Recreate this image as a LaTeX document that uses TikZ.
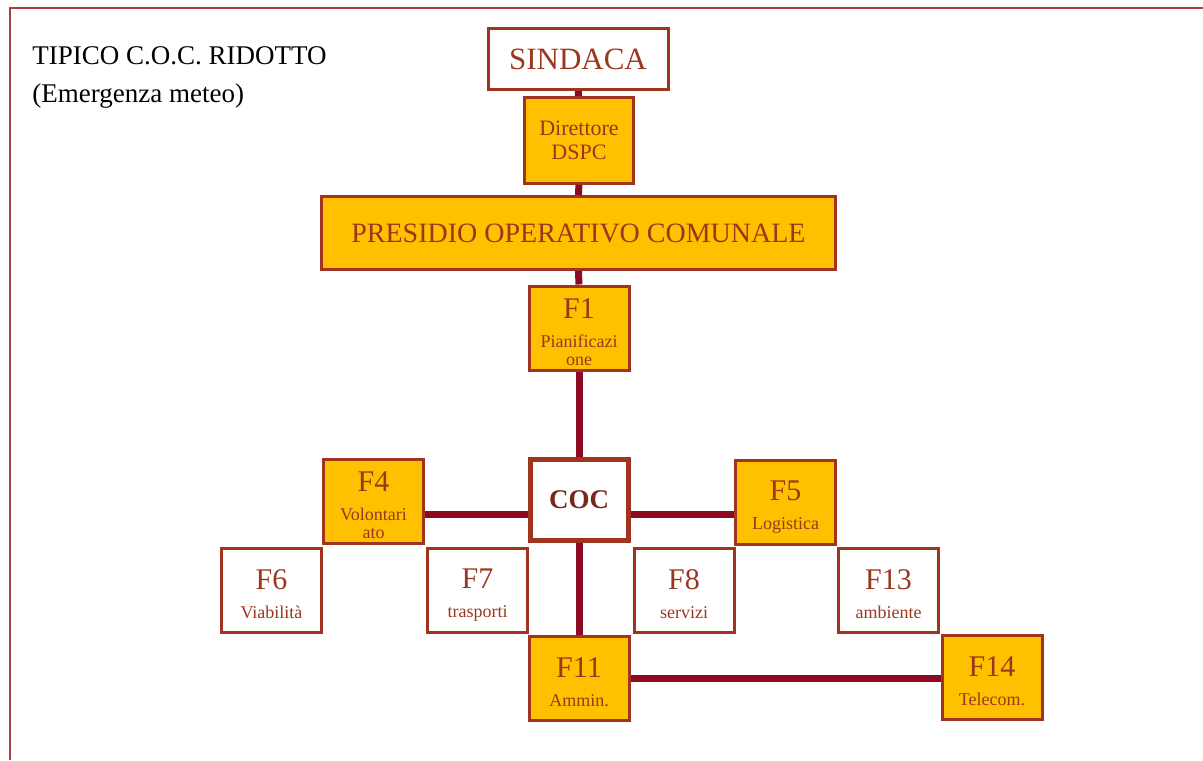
\documentclass[tikz,border=0pt]{standalone}
\usepackage{fontspec}
\setmainfont{Liberation Serif}
\usepackage{xcolor}
\definecolor{cocgold}{RGB}{255,192,0}
\definecolor{cocborder}{RGB}{160,52,30}
\definecolor{coclink}{RGB}{140,10,34}
\definecolor{coctext}{RGB}{155,55,30}
\definecolor{cocframe}{RGB}{165,65,65}
\newcommand{\Fbig}{\fontsize{15}{15}\selectfont}
\newcommand{\Fsmall}{\fontsize{9}{9}\selectfont}
\newcommand{\Flabel}[2]{{\Fbig\rule{0pt}{14.5pt}#1}\\[5.5pt]#2\rule[-1pt]{0pt}{1pt}}
\tikzstyle{box}=[rectangle, draw=cocborder, line width=1.5pt, inner sep=0pt, align=center, text=coctext, font=\Fsmall]
\tikzstyle{office}=[box, minimum width=50pt, minimum height=42pt]
\tikzstyle{filled}=[fill=cocgold]
\tikzstyle{link}=[line width=3.5pt, color=coclink]
\tikzstyle{heading}=[anchor=base west, inner sep=0pt, font=\fontsize{13.5}{16}\selectfont]

\begin{document}
\begin{tikzpicture}[x=0.5pt,y=-0.5pt]
  \useasboundingbox (0,0) rectangle (1203,760);
  \draw[cocframe, line width=1pt] (10,760) -- (10,8) -- (1203,8);

  \draw (32,64) node[heading] (title) {TIPICO C.O.C. RIDOTTO};
  \draw (32,102) node[heading] (subtitle) {(Emergenza meteo)};

  \draw (578,59) node[box, fill=white, minimum width=90pt, minimum height=30.5pt, font=\fontsize{15.5}{16}\selectfont] (sindaca) {SINDACA};
  \draw (579,140.5) node[box, filled, minimum width=54.5pt, minimum height=43pt, font=\fontsize{11}{12}\selectfont] (direttore) {Direttore\\DSPC};
  \draw (578.5,233) node[box, filled, minimum width=257pt, minimum height=36.5pt, font=\fontsize{14}{16}\selectfont] (presidio) {PRESIDIO OPERATIVO COMUNALE};
  \draw (579,328) node[office, filled] (f1) {\Flabel{F1}{Pianificazi\\one}};
  \draw (579,500) node[box, fill=white, line width=2.5pt, minimum width=49pt, minimum height=40.5pt, text={rgb,255:red,120;green,40;blue,25}, font=\fontsize{13.5}{16}\selectfont\bfseries] (coc) {COC};

  \draw (373.5,501.5) node[office, filled] (f4) {\Flabel{F4}{Volontari\\ato}};
  \draw (785.5,502.5) node[office, filled] (f5) {\Flabel{F5}{Logistica}};

  \draw (271.5,590) node[office] (f6) {\Flabel{F6}{Viabilità}};
  \draw (477.5,590) node[office] (f7) {\Flabel{F7}{trasporti}};
  \draw (684,590) node[office] (f8) {\Flabel{F8}{servizi}};
  \draw (888.5,590) node[office] (f13) {\Flabel{F13}{ambiente}};

  \draw (579,678) node[office, filled] (f11) {\Flabel{F11}{Ammin.}};
  \draw (992,677.5) node[office, filled] (f14) {\Flabel{F14}{Telecom.}};

  %% vertical chain
  \draw[link] (sindaca) -- (direttore);
  \draw[link] (direttore) -- (presidio);
  \draw[link] (presidio) -- (f1);
  \draw[link] (f1) -- (coc);
  \draw[link] (coc) -- (f11);
  %% side functions
  \draw[link] ([yshift=-7pt]coc.west) -- ([yshift=-7pt]coc.west -| f4.east);
  \draw[link] ([yshift=-7pt]coc.east) -- ([yshift=-7pt]coc.east -| f5.west);
  \draw[link] (f11) -- (f11 -| f14.west);
\end{tikzpicture}
\end{document}
